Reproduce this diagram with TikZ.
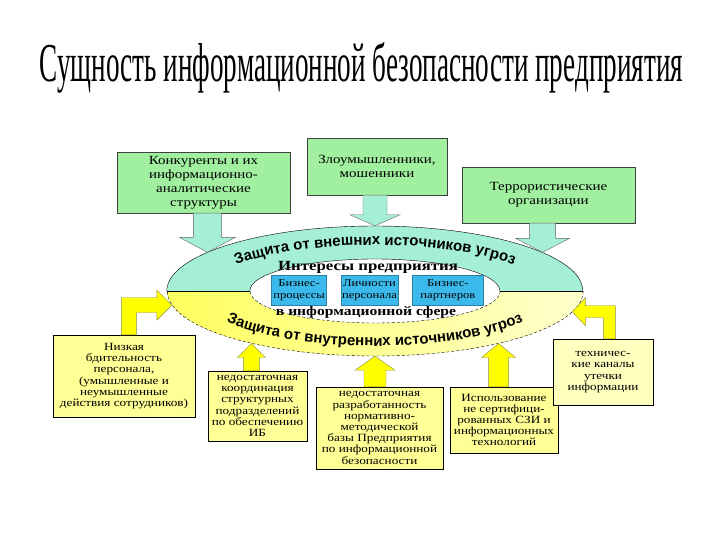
\documentclass[tikz,border=0pt]{standalone}
\usepackage{graphicx}
\usepackage{fontspec}
\setmainfont{Liberation Serif}
\newfontfamily\boxfont{Liberation Serif}[FakeStretch=1.2]
\newfontfamily\arcfont{Liberation Sans}
\usetikzlibrary{positioning,calc,shapes.geometric,decorations.text}

\definecolor{greenbox}{RGB}{160,240,160}
\definecolor{aquaarrow}{RGB}{165,240,212}
\definecolor{yellowbox}{RGB}{255,255,150}
\definecolor{paleyellow}{RGB}{255,255,190}
\definecolor{sunyellow}{RGB}{255,255,0}
\definecolor{bluebox}{RGB}{60,185,235}

% #1 style, #2 start, #3 tip, #4 half shaft, #5 half head, #6 head base offset (y)
\newcommand\blockarrow[6]{%
  \draw[#1] ($#2+(-#4,0)$) -- ($#3+(-#4,#6)$) -- ($#3+(-#5,#6)$) -- #3
    -- ($#3+(#5,#6)$) -- ($#3+(#4,#6)$) -- ($#2+(#4,0)$) -- cycle;}

\tikzset{
  source/.style={draw=black!75, fill=greenbox, thin, align=center, inner sep=2pt,
    font=\boxfont\fontsize{12.5}{14}\selectfont},
  weakness/.style={draw=black, fill=yellowbox, thin, align=center, inner sep=1.5pt,
    font=\boxfont\fontsize{11}{11.2}\selectfont},
  asset/.style={draw=bluebox!70!black, fill=bluebox, align=center, inner sep=1pt,
    minimum height=30, font=\boxfont\fontsize{10.5}{11.5}\selectfont},
  outerarrow/.style={draw=black!60, fill=aquaarrow, thin},
  innerarrow/.style={draw=black!50!yellow, fill=sunyellow, thin},
}

\begin{document}
\begin{tikzpicture}[x=1pt, y=-1pt]
  \useasboundingbox[fill=white] (0,0) rectangle (720,540);

  % title
  \node[inner sep=0] (title) at (361.5,67.5)
    {\resizebox*{643pt}{51pt}{Сущность информационной безопасности предприятия}};

  % outer and inner rings
  \coordinate (c) at (375,291);
  \node[ellipse, inner sep=0, minimum width=416, minimum height=130] (outer) at (c) {};
  \fill[aquaarrow] (outer.west) arc[start angle=180, end angle=360, x radius=208, y radius=65] -- cycle;
  \shade[left color={rgb,255:red,255;green,255;blue,95}, right color={rgb,255:red,255;green,255;blue,205}]
    (outer.east) arc[start angle=0, end angle=180, x radius=208, y radius=65] -- cycle;
  \node[ellipse, fill=white, inner sep=0, minimum width=250, minimum height=64] (inner) at (c) {};
  \draw[thin] (outer.west) arc[start angle=180, end angle=360, x radius=208, y radius=65];
  \draw[thin, densely dashed] (outer.east) arc[start angle=0, end angle=180, x radius=208, y radius=65];
  \draw[thin] (inner.west) arc[start angle=180, end angle=360, x radius=125, y radius=32];
  \draw[thin, densely dashed] (inner.east) arc[start angle=0, end angle=180, x radius=125, y radius=32];
  \draw[thin] (outer.west) -- (inner.west);
  \draw[thin] (inner.east) -- (outer.east);

  % ring labels
  \path[decorate, decoration={text along path, text align=center,
      text={|\arcfont\bfseries\fontsize{15}{15}\selectfont|Защита от внешних источников угроз}}]
    (375,293) ++(-172,0) arc[start angle=180, end angle=360, x radius=172, y radius=48];
  \path[decorate, decoration={text along path, text align=center,
      text={|\arcfont\bfseries\fontsize{15}{15}\selectfont|Защита от внутренних источников угроз}}]
    (375,288) ++(-182,0) arc[start angle=180, end angle=0, x radius=182, y radius=58];

  % interests
  \node[font=\boxfont\bfseries\fontsize{14}{14}\selectfont] (interests) at (368,267) {Интересы предприятия};
  \node[asset, minimum width=57] (b2) at (369.5,290) {Личности\\персонала};
  \node[asset, minimum width=55, left=14pt of b2] (b1) {Бизнес-\\процессы};
  \node[asset, minimum width=71, right=14pt of b2] (b3) {Бизнес-\\партнеров};
  \node[font=\boxfont\bfseries\fontsize{13}{13}\selectfont] (sphere) at (366,312) {в информационной сфере};

  % external sources
  \node[source, minimum width=173, minimum height=61] (g1) at (203.5,182.5)
    {Конкуренты и их\\информационно-\\аналитические\\структуры};
  \node[source, minimum width=140, minimum height=57] (g2) at (377,166.5)
    {Злоумышленники,\\мошенники};
  \node[source, minimum width=173, minimum height=56] (g3) at (548.5,195)
    {Террористические\\организации};

  \coordinate (s1) at (g1.south -| outer.167);
  \coordinate (s2) at (g2.south -| outer.north);
  \coordinate (s3) at (g3.south -| outer.13);
  \blockarrow{outerarrow}{(s1)}{(outer.167)}{14}{28}{-15}
  \blockarrow{outerarrow}{(s2)}{(outer.north)}{12}{25}{-11}
  \blockarrow{outerarrow}{(s3)}{(outer.13)}{13}{27}{-14}

  % internal sources
  \node[weakness, minimum width=142, minimum height=82] (l1) at (124,376)
    {Низкая\\бдительность\\персонала,\\(умышленные и\\неумышленные\\действия сотрудников)};
  \node[weakness, minimum width=99, minimum height=70] (l2) at (257.5,406)
    {недостаточная\\координация\\структурных\\подразделений\\по обеспечению\\ИБ};
  \node[weakness, minimum width=127, minimum height=82] (l3) at (379.5,428)
    {недостаточная\\разработанность\\нормативно-\\методической\\базы Предприятия\\по информационной\\безопасности};
  \node[weakness, minimum width=108, minimum height=66] (l4) at (504,420)
    {Использование\\не сертифици-\\рованных СЗИ и\\информационных\\технологий};
  \node[weakness, fill=paleyellow, minimum width=100, minimum height=66] (l5) at (603,372)
    {техничес-\\кие каналы\\утечки\\информации};

  \coordinate (s5) at (l2.north -| outer.203);
  \coordinate (s6) at (l3.north -| outer.south);
  \coordinate (s7) at (l4.north -| outer.337);
  \blockarrow{innerarrow}{(s5)}{(outer.203)}{8}{14}{14}
  \blockarrow{innerarrow}{(s6)}{(outer.south)}{11}{20}{14}
  \blockarrow{innerarrow}{(s7)}{(outer.337)}{10}{17}{14}

  % bent arrows
  \coordinate (t1) at (outer.184);
  \draw[innerarrow] (t1) -- ($(t1)+(-15,-15)$) -- ($(t1)+(-15,-7.5)$) -- ($(t1)+(-50.5,-7.5)$)
    -- ({$(t1)+(-50.5,0)$} |- l1.north) -- ({$(t1)+(-35.5,0)$} |- l1.north)
    -- ($(t1)+(-35.5,7.5)$) -- ($(t1)+(-15,7.5)$) -- ($(t1)+(-15,15)$) -- cycle;
  \coordinate (t5) at (outer.354);
  \draw[innerarrow] (t5) -- ($(t5)+(13,-14)$) -- ($(t5)+(13,-6)$) -- ($(t5)+(43,-6)$)
    -- ({$(t5)+(43,0)$} |- l5.north) -- ({$(t5)+(31,0)$} |- l5.north)
    -- ($(t5)+(31,6)$) -- ($(t5)+(13,6)$) -- ($(t5)+(13,14)$) -- cycle;
\end{tikzpicture}
\end{document}
